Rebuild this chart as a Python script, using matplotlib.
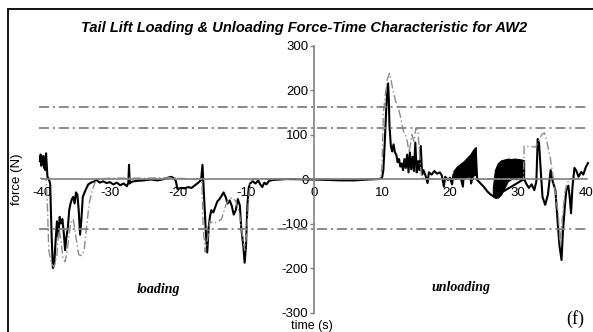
import matplotlib
matplotlib.use("Agg")
import matplotlib.pyplot as plt
from matplotlib.patches import Rectangle

# black trace (force vs time)
t_black = [-40.3, -40.2, -40.1, -40.0, -39.9, -39.8, -39.7, -39.6, -39.5, -39.4, -39.3, -39.2,
           -39.0, -38.8, -38.6, -38.4, -38.2, -38.0, -37.8, -37.6, -37.4, -37.2, -37.0, -36.8,
           -36.6, -36.4, -36.2, -36.0, -35.8, -35.6, -35.4, -35.2, -35.0, -34.8, -34.6, -34.4,
           -34.2, -34.0, -33.6, -33.2, -32.8, -32.4, -32.0, -31.5, -31.0, -30.5, -30.0, -29.5,
           -29.0, -28.5, -28.0, -27.5, -27.3, -27.2, -27.1, -26.8, -26.0, -25.0, -24.0, -23.0,
           -22.0, -21.5, -21.0, -20.6, -20.3, -20.1, -19.5, -19.0, -18.5, -18.0, -17.5, -17.0,
           -16.6, -16.4, -16.3, -16.1, -15.9, -15.7, -15.5, -15.3, -15.1, -14.8, -14.5, -14.2,
           -13.9, -13.6, -13.3, -13.0, -12.7, -12.4, -12.1, -11.8, -11.5, -11.2, -10.9, -10.7,
           -10.4, -10.2, -10.0, -9.8, -9.6, -9.4, -9.0, -8.6, -8.2, -7.9, -7.6, -7.3,
           -7.0, -6.6, -6.0, -5.0, -4.0,
           0.0, 2.0, 4.0, 6.0, 8.0, 9.5, 10.0, 10.2, 10.4, 10.6, 10.8, 10.9,
           11.0, 11.1, 11.3, 11.5, 11.7, 11.9, 12.1, 12.3, 12.5, 12.7, 12.9, 13.1,
           13.3, 13.5, 13.7, 13.9, 14.1, 14.3, 14.5, 14.7, 14.9, 15.1, 15.3, 15.5,
           15.7, 15.9, 16.1, 16.4, 16.7, 16.9, 17.3, 17.7, 18.1, 18.5, 18.8, 19.1,
           19.3, 19.7, 20.0, 20.3, 20.5, 21.0, 21.5, 21.9, 22.0, 22.5, 23.0, 23.1,
           23.5, 23.8, 24.0, 24.5, 25.0, 25.5, 26.0, 26.5,
           30.9, 31.2, 31.6, 32.0, 32.4, 32.7, 32.9, 33.1, 33.3, 33.6, 34.0, 34.4,
           34.8, 35.1, 35.5, 35.8, 36.1, 36.4, 36.6, 36.9, 37.1, 37.4, 37.6, 37.8,
           38.0, 38.3, 38.6, 38.9, 39.3, 39.6, 40.0, 40.3]
f_black = [40, 55, 30, 48, 35, 52, 25, 45, 20, 58, 30, 5,
           0, -10, -120, -200, -190, -140, -95, -130, -85, -100, -90, -120,
           -160, -130, -110, -70, -55, -45, -40, -55, -30, -35, -70, -125,
           -90, -40, -25, -12, -8, -6, -2, -8, -5, -9, -7, -12,
           -8, -14, -10, -16, -8, 32, -10, -6, -4, -3, -1, -3,
           0, 3, 5, 2, -5, -22, -20, -21, -18, -20, -14, -8,
           -2, 32, 0, -60, -120, -165, -110, -85, -70, -75, -62, -50,
           -45, -38, -30, -40, -55, -48, -60, -80, -70, -45, -60, -110,
           -150, -188, -150, -60, -20, -10, -5, -10, -3, -12, -18, -8,
           -12, -4, -2, -1, 0,
           -1, -2, -3, -3, -1, 0, 2, 20, 80, 150, 205, 215,
           180, 120, 75, 62, 78, 60, 55, 38, 45, 28, 35, 20,
           45, 25, 55, 15, 60, 22, 50, 18, 82, 15, 40, 20,
           74, 10, 20, 8, -9, 15, 10, 18, 12, 15, 8, -17,
           5, -2, 3, -12, 10, 5, 8, -17, 6, 10, 12, -10,
           15, 60, -2, -10, -18, -28, -35, -40,
           0, -10, -20, -12, -25, -5, 90, 80, 30, -40, -58, -35,
           20, -5, -25, -90, -150, -182, -120, -60, -25, -15, -40, -77,
           -20, 25, 18, 5, 16, 10, 28, 36]

# dense oscillation bands of the black trace
band1_t = [20.5, 21.0, 21.5, 22.0, 22.5, 23.0, 23.5, 23.8]
band1_lo = [2, 0, 3, 2, 5, 6, 8, 10]
band1_hi = [18, 28, 34, 40, 48, 56, 68, 72]
band2_t = [26.3, 26.6, 27.0, 27.5, 28.0, 28.5, 29.0, 29.5, 30.0, 30.5, 30.9]
band2_lo = [-38, -42, -42, -35, -20, -5, 0, 0, 0, 0, 0]
band2_hi = [-20, 20, 35, 42, 44, 46, 45, 46, 45, 44, 42]

# grey dash-dot trace
t_grey = [-40.3, -39.4, -39.2, -39.0, -38.6, -38.2, -37.8, -37.5, -37.2, -36.9, -36.6, -36.2,
          -35.8, -35.4, -35.0, -34.6, -34.2, -33.8, -33.4, -33.0, -32.6, -32.2, -31.8, -30.0,
          -25.0, -21.0, -20.5, -17.0, -16.5, -16.3, -16.0, -15.7, -15.3, -14.8, -14.2, -13.6,
          -13.0, -12.5, -12.0, -11.5, -11.0, -10.5, -10.2, -9.9, -9.6, -9.3, -9.0,
          0.0, 9.8, 10.0, 10.2, 10.5, 10.8, 11.1, 11.3, 11.6, 12.0, 12.4, 12.8,
          13.1, 13.4, 13.7, 14.0, 14.4, 14.7, 15.0, 15.3, 15.5, 15.8, 16.2, 30.8,
          30.9, 32.6, 33.0, 33.5, 33.9, 34.3, 34.8, 35.3, 35.9, 36.2, 36.5, 36.9,
          37.2, 37.6, 40.3]
f_grey = [2, 0, -60, -160, -190, -198, -170, -110, -140, -180, -186, -150,
          -100, -90, -130, -170, -172, -160, -100, -50, -25, -8, 0, 2,
          2, 3, 2, 0, 0, -108, -164, -140, -95, -100, -96, -90,
          -60, -45, -42, -50, -75, -130, -160, -120, -40, -5, 0,
          0, 0, 30, 148, 190, 225, 238, 225, 200, 175, 160, 135,
          110, 100, 85, 60, 100, 85, 115, 105, 60, 5, 0, 0,
          74, 72, 85, 100, 104, 80, 43, -10, -77, -144, -90, -30,
          -10, 0, 0]

# threshold levels
levels = [163, 114, -113]

x_ticks = [-40, -30, -20, -10, 0, 10, 20, 30, 40]
y_ticks = [-300, -200, -100, 0, 100, 200, 300]

plt.rcParams["font.family"] = "Liberation Sans"
plt.rcParams["axes.unicode_minus"] = False

fig = plt.figure(figsize=(5.93, 3.32), dpi=100)
ax = fig.add_axes([0.0708, 0.0587, 0.9174, 0.804])
ax.set_xlim(-40, 40)
ax.set_ylim(-300, 300)

grey = "#808080"
for lv in levels:
    ax.plot([-40.4, 40.4], [lv, lv], color=grey, lw=1.3,
            linestyle=(0, (5.5, 2.2, 1.1, 2.2)), clip_on=False, zorder=4)

ax.fill_between(band1_t, band1_lo, band1_hi, color="black", lw=0.8, zorder=2)
ax.fill_between(band2_t, band2_lo, band2_hi, color="black", lw=0.8, zorder=2)
ax.plot(t_black, f_black, color="black", lw=1.5, clip_on=False, zorder=2)
ax.plot(t_grey, f_grey, color="#8c8c8c", lw=1.0,
        linestyle=(0, (6, 2, 1, 2)), clip_on=False, zorder=3)

ax.spines["top"].set_visible(False)
ax.spines["right"].set_visible(False)
ax.spines["left"].set_position(("data", 0))
ax.spines["bottom"].set_position(("data", 0))
ax.spines["left"].set_color(grey)
ax.spines["bottom"].set_color(grey)
ax.spines["left"].set_zorder(5)
ax.spines["bottom"].set_zorder(5)
ax.spines["left"].set_linewidth(1.2)
ax.spines["bottom"].set_linewidth(1.2)

ax.set_xticks(x_ticks)
ax.set_yticks(y_ticks)
ax.tick_params(axis="x", length=0, pad=6, labelsize=9.5)
ax.tick_params(axis="y", length=3, color=grey, width=1, pad=1, labelsize=9.5)
ax.patch.set_visible(False)

fig.text(0.513, 0.915, "Tail Lift Loading & Unloading Force-Time Characteristic for AW2",
         ha="center", va="center", fontsize=10.5, fontweight="bold", fontstyle="italic")
fig.text(17 / 593, 1 - 179 / 332, "force (N)", rotation=90, ha="center", va="center", fontsize=9.5)
fig.text(312 / 593, 1 - 326 / 332, "time (s)", ha="center", va="center", fontsize=9)
fig.text(158 / 593, 1 - 289 / 332, "loading", ha="center", va="center", fontsize=10,
         family="Liberation Serif", fontweight="bold", fontstyle="italic")
fig.text(461 / 593, 1 - 288 / 332, "unloading", ha="center", va="center", fontsize=10,
         family="Liberation Serif", fontweight="bold", fontstyle="italic")
fig.text(575 / 593, 1 - 319 / 332, "(f)", ha="center", va="center", fontsize=13,
         family="Liberation Serif")

fig.patches.append(Rectangle((8 / 593, -0.02), 0.99, (332 - 9) / 332 + 0.02,
                             transform=fig.transFigure, fill=False, lw=1.3,
                             edgecolor="black"))

fig.savefig("out.png", dpi=100)
